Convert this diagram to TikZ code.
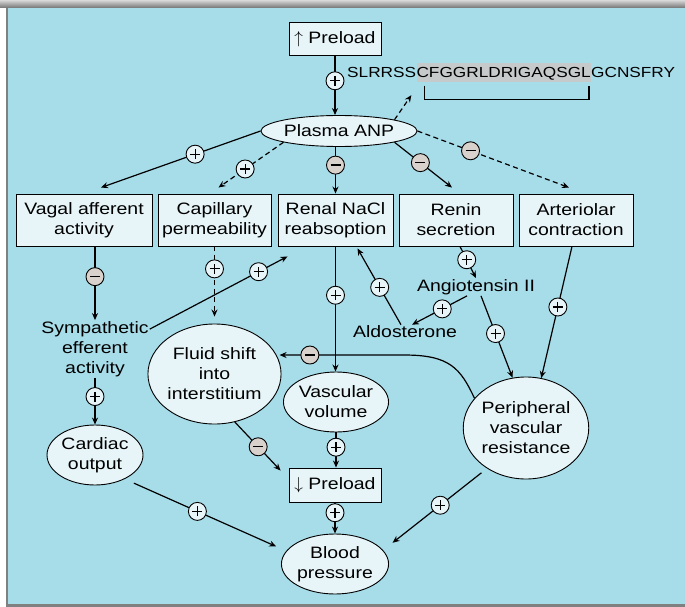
\documentclass[tikz,border=0pt]{standalone}
\usepackage{fontspec}
\setmainfont[FakeStretch=1.18]{Liberation Sans}
\usetikzlibrary{arrows.meta,shapes.geometric,calc}

\definecolor{bg}{HTML}{A7DCE9}
\definecolor{nodefill}{HTML}{E7F5F9}
\definecolor{minusfill}{HTML}{D9D1CB}
\definecolor{hl}{HTML}{C6CACB}
\newcommand\lab{\fontsize{16.5}{20}\selectfont}
\newcommand\seqfont{\fontsize{14.6}{18}\selectfont}

\begin{document}
\begin{tikzpicture}[x=1pt,y=-1pt,
  box/.style={draw, line width=0.9pt, fill=nodefill, rectangle, inner sep=0pt,
              align=center, font=\lab, minimum height=52pt},
  oval/.style={draw, ellipse, line width=0.9pt, fill=nodefill, inner sep=0pt,
               align=center, font=\lab},
  lbl/.style={align=center, font=\lab, inner sep=1pt},
  arr/.style={-{Stealth[length=7pt,width=6pt]}, line width=1.2pt},
  dashline/.style={dash pattern=on 5pt off 3.5pt},
  signline/.style={line width=1.1pt, solid, -, shorten <=0pt, shorten >=0pt},
  sgn/.style={circle, draw, solid, line width=0.9pt, minimum size=18pt, inner sep=0pt},
  pcirc/.style={sgn, fill=nodefill, path picture={
      \draw[signline]
        ([xshift=-5pt]path picture bounding box.center) -- ([xshift=5pt]path picture bounding box.center)
        ([yshift=-5pt]path picture bounding box.center) -- ([yshift=5pt]path picture bounding box.center);}},
  mcirc/.style={sgn, fill=minusfill, path picture={
      \draw[signline, line width=1.3pt]
        ([xshift=-5pt]path picture bounding box.center) -- ([xshift=5pt]path picture bounding box.center);}},
  seq/.style={font=\seqfont, inner sep=0pt, anchor=base west}
]
\useasboundingbox (0,0) rectangle (685,607);

% frame and background
\fill[white] (0,0) rectangle (685,607);
\fill[bg] (7,8) rectangle (685,604);
\shade[top color=gray!30, bottom color=gray!90!black] (0,0) rectangle (685,8);
\fill[gray] (5.5,8) rectangle (8,607);
\fill[gray] (5.5,604) rectangle (685,607);

% nodes
\node[box, minimum width=92pt, minimum height=33pt] (preUp) at (335,39) {$\uparrow$ Preload};
\node[seq] (seqA) at (347,78) {SLRRSS};
\node[seq, fill=hl, text height=15pt, text depth=4.5pt] (seqB) at (seqA.base east) {CFGGRLDRIGAQSGL};
\node[seq] (seqC) at (seqB.base east) {GCNSFRY};
\coordinate (brk) at ([xshift=-5pt,yshift=-12.5pt]seqB.south west);

\node[oval, minimum width=144pt, minimum height=31pt] (anp) at (339,131) {Plasma ANP};

\node[box, minimum width=136pt] (vagal) at (84,220) {Vagal afferent\\activity};
\node[box, minimum width=113pt] (cap) at (214.5,220) {Capillary\\permeability};
\node[box, minimum width=115pt] (renal) at (335.5,220) {Renal NaCl\\reabsoption};
\node[box, minimum width=114pt] (renin) at (456,220) {Renin\\secretion};
\node[box, minimum width=114pt] (art) at (576,220) {Arteriolar\\contraction};

\node[lbl] (symp) at (95,349) {Sympathetic\\efferent\\activity};
\node[oval, minimum width=96pt, minimum height=60pt] (cardiac) at (95,455) {Cardiac\\output};
\node[oval, minimum width=116pt, minimum height=100pt] (fluid) at (214.5,374) {Fluid shift\\into\\interstitium};
\node[oval, minimum width=98pt, minimum height=60pt] (vasc) at (336,402) {Vascular\\volume};
\node[oval, minimum width=120pt, minimum height=102pt] (periph) at (526,428) {Peripheral\\vascular\\resistance};
\node[box, minimum width=92pt, minimum height=34pt] (preDown) at (335,485) {$\downarrow$ Preload};
\node[oval, minimum width=96pt, minimum height=60pt] (bp) at (335,564) {Blood\\pressure};
\node[lbl] (angio) at (476,287) {Angiotensin II};
\node[lbl] (aldo) at (405,332) {Aldosterone};

% peptide bracket
\draw[line width=1.2pt] ([xshift=8pt,yshift=-3pt]seqB.south west) -- ++(0,14)
  -| ([xshift=-2pt,yshift=-3pt]seqB.south east);

% connectors
\draw[arr] (preUp.south) -- (preUp.south |- anp.north) node[pos=0.42,pcirc]{};
\draw[arr,dashline] (anp.north east) -- (brk);

\draw[arr] (anp.west) -- ([xshift=17pt,yshift=6pt]vagal.north) node[pos=0.41,pcirc]{};
\draw[arr,dashline] (anp.south west) -- ([xshift=4pt,yshift=6pt]cap.north) node[pos=0.59,pcirc]{};
\draw[arr] (anp.south -| renal.north) -- (renal.north) node[pos=0.39,mcirc]{};
\draw[arr] (anp.south east) -- ([xshift=-4pt,yshift=6pt]renin.north) node[pos=0.45,mcirc]{};
\draw[arr,dashline] (anp.east) -- ([xshift=-7pt,yshift=6pt]art.north) node[pos=0.35,mcirc]{};

\draw[arr] (symp.north |- vagal.south) -- (symp.north) node[pos=0.41,mcirc]{};
\draw[arr] (symp.south) -- (cardiac.north) node[pos=0.4,pcirc]{};
\draw[arr] ([yshift=-9pt]symp.north east) -- ([xshift=-48pt,yshift=-10pt]renal.south) node[pos=0.79,pcirc]{};

\draw[arr,dashline] (cap.south) -- ([yshift=7pt]fluid.north) node[pos=0.32,pcirc]{};
\draw[arr] (renal.south) -- (renal.south |- vasc.north) node[pos=0.39,pcirc]{};

\draw[arr] ([xshift=4pt]renin.south) -- (angio.north) node[pos=0.42,pcirc]{};
\draw[arr] ([xshift=-9pt]angio.south) -- ([xshift=7pt]aldo.north) node[pos=0.45,pcirc]{};
\draw[arr] ([xshift=-4pt]aldo.north) -- ([xshift=22pt,yshift=-2pt]renal.south) node[pos=0.49,pcirc]{};
\draw[arr] ([xshift=5pt]angio.south) -- (periph.105) node[pos=0.46,pcirc]{};
\draw[arr] ([xshift=-4pt]art.south) -- (periph.73) node[pos=0.46,pcirc]{};

\coordinate (bend) at ($(fluid.17)+(128,0)$);
\draw[arr, shorten >=3pt] (periph.150) .. controls +(-14,-30) and +(45,0) .. (bend)
  -- (fluid.17) node[pos=0.74,mcirc]{};

\draw[arr] (fluid.-67) -- ([xshift=-8pt,yshift=-3pt]preDown.north west) node[pos=0.51,mcirc]{};
\draw[arr] (vasc.south) -- (vasc.south |- preDown.north) node[pos=0.42,pcirc]{};
\draw[arr] (preDown.south) -- (preDown.south |- bp.north) node[pos=0.33,pcirc]{};
\draw[arr, shorten <=10pt, shorten >=11pt] (cardiac.-39) -- (bp.165) node[pos=0.45,pcirc]{};
\draw[arr, shorten <=7pt, shorten >=12pt] (periph.226) -- (bp.16) node[pos=0.45,pcirc]{};
\end{tikzpicture}
\end{document}
